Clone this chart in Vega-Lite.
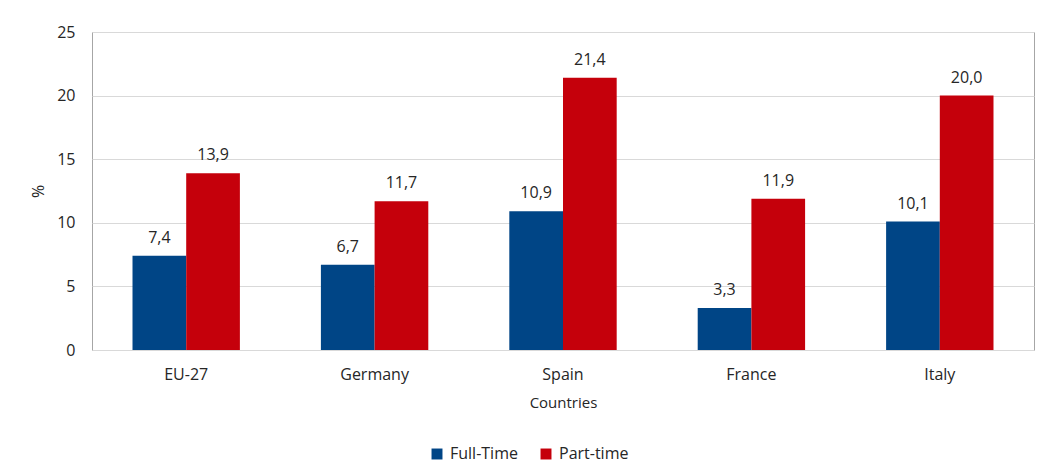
{
  "$schema": "https://vega.github.io/schema/vega-lite/v6.json",
  "width": 942,
  "height": 318,
  "autosize": {"type": "none"},
  "padding": {"left": 92, "top": 32, "right": 20, "bottom": 123},
  "background": "white",
  "config": {
    "font": "Open Sans",
    "locale": {
      "number": {"decimal": ",", "thousands": ".", "grouping": [3], "currency": ["", " €"]}
    },
    "view": {"stroke": "#a6a6a6", "strokeWidth": 1}
  },
  "data": {
    "values": [
      {"country": "EU-27", "type": "Full-Time", "value": 7.4},
      {"country": "EU-27", "type": "Part-time", "value": 13.9},
      {"country": "Germany", "type": "Full-Time", "value": 6.7},
      {"country": "Germany", "type": "Part-time", "value": 11.7},
      {"country": "Spain", "type": "Full-Time", "value": 10.9},
      {"country": "Spain", "type": "Part-time", "value": 21.4},
      {"country": "France", "type": "Full-Time", "value": 3.3},
      {"country": "France", "type": "Part-time", "value": 11.9},
      {"country": "Italy", "type": "Full-Time", "value": 10.1},
      {"country": "Italy", "type": "Part-time", "value": 20.0}
    ]
  },
  "encoding": {
    "x": {
      "field": "country",
      "type": "nominal",
      "sort": ["EU-27", "Germany", "Spain", "France", "Italy"],
      "scale": {"paddingInner": 0.43, "paddingOuter": 0.215},
      "axis": {
        "title": "Countries",
        "labelAngle": 0,
        "domain": false,
        "ticks": false,
        "labelPadding": 16,
        "labelFontSize": 16,
        "labelColor": "#262626",
        "titleFontSize": 15,
        "titleFontWeight": "normal",
        "titleColor": "#262626",
        "titlePadding": 13
      }
    },
    "xOffset": {"field": "type", "sort": ["Full-Time", "Part-time"]},
    "y": {
      "field": "value",
      "type": "quantitative",
      "scale": {"domain": [0, 25], "nice": false},
      "axis": {
        "title": "%",
        "values": [0, 5, 10, 15, 20, 25],
        "domain": false,
        "ticks": false,
        "gridColor": "#d9d9d9",
        "gridWidth": 1,
        "labelPadding": 17,
        "labelFontSize": 16,
        "labelColor": "#262626",
        "titleFontSize": 16,
        "titleFontWeight": "normal",
        "titleColor": "#262626",
        "titleX": -54,
        "titleY": 159,
        "titleAlign": "center",
        "titleBaseline": "middle"
      }
    }
  },
  "layer": [
    {
      "mark": {"type": "bar"},
      "encoding": {
        "color": {
          "field": "type",
          "type": "nominal",
          "scale": {"domain": ["Full-Time", "Part-time"], "range": ["#004586", "#c5000b"]},
          "legend": {
            "title": null,
            "orient": "none",
            "direction": "horizontal",
            "legendX": 337,
            "legendY": 414,
            "symbolType": "square",
            "symbolSize": 120,
            "symbolStrokeWidth": 0,
            "labelFontSize": 16,
            "labelColor": "#262626",
            "labelOffset": 5,
            "columnPadding": 20
          }
        }
      }
    },
    {
      "mark": {"type": "text", "baseline": "bottom", "dy": -10, "fontSize": 16, "color": "#262626"},
      "encoding": {
        "text": {"field": "value", "type": "quantitative", "format": ".1f"}
      }
    }
  ]
}
